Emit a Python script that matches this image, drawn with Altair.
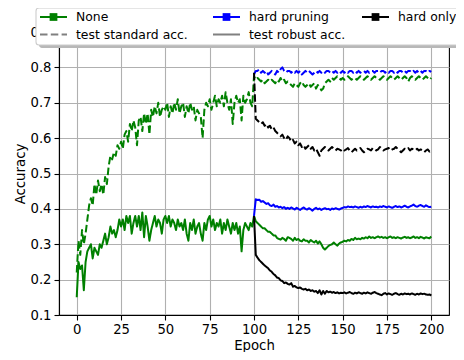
import altair as alt
import pandas as pd

# ---------------- data ----------------
epochs_full = list(range(0, 201))
epochs_retrain = list(range(100, 201))

none_std = [
    0.22, 0.31, 0.27, 0.34, 0.30, 0.33, 0.37, 0.41, 0.43, 0.41,
    0.47, 0.44, 0.48, 0.45, 0.47, 0.44, 0.49, 0.47, 0.52, 0.55,
    0.54, 0.56, 0.55, 0.58, 0.57, 0.59, 0.57, 0.61, 0.62, 0.59,
    0.64, 0.62, 0.65, 0.63, 0.58, 0.65, 0.66, 0.62, 0.67, 0.64,
    0.67, 0.61, 0.68, 0.66, 0.69, 0.67, 0.70, 0.66, 0.68, 0.69,
    0.68, 0.70, 0.66, 0.69, 0.67, 0.70, 0.68, 0.71, 0.67, 0.69,
    0.70, 0.66, 0.69, 0.67, 0.70, 0.68, 0.69, 0.65, 0.68, 0.67,
    0.66, 0.60, 0.68, 0.70, 0.69, 0.71, 0.68, 0.70, 0.72, 0.69,
    0.71, 0.70, 0.72, 0.69, 0.73, 0.70, 0.68, 0.71, 0.64, 0.70,
    0.72, 0.70, 0.71, 0.65, 0.72, 0.70, 0.71, 0.73, 0.70, 0.69,
    0.775, 0.765, 0.77, 0.765, 0.76, 0.765, 0.755, 0.76, 0.765, 0.76,
    0.765, 0.76, 0.755, 0.765, 0.76, 0.77, 0.76, 0.765, 0.755, 0.76,
    0.755, 0.75, 0.745, 0.755, 0.75, 0.745, 0.755, 0.76, 0.75, 0.745,
    0.75, 0.755, 0.745, 0.75, 0.755, 0.74, 0.75, 0.745, 0.735, 0.74,
    0.755, 0.76, 0.765, 0.76, 0.77, 0.765, 0.77, 0.775, 0.77, 0.765,
    0.77, 0.765, 0.77, 0.775, 0.77, 0.765, 0.77, 0.77, 0.765, 0.77,
    0.775, 0.77, 0.765, 0.77, 0.775, 0.77, 0.765, 0.77, 0.775, 0.77,
    0.77, 0.765, 0.77, 0.775, 0.77, 0.765, 0.77, 0.775, 0.77, 0.765,
    0.77, 0.775, 0.77, 0.765, 0.77, 0.775, 0.77, 0.76, 0.77, 0.775,
    0.77, 0.765, 0.77, 0.775, 0.77, 0.765, 0.77, 0.775, 0.77, 0.765,
    0.77,
]

none_rob = [
    0.15, 0.25, 0.23, 0.24, 0.17, 0.25, 0.28, 0.29, 0.30, 0.26,
    0.29, 0.28, 0.27, 0.30, 0.29, 0.31, 0.33, 0.30, 0.32, 0.35,
    0.33, 0.34, 0.32, 0.34, 0.37, 0.35, 0.37, 0.34, 0.38, 0.36,
    0.38, 0.33, 0.36, 0.38, 0.35, 0.38, 0.34, 0.39, 0.32, 0.38,
    0.35, 0.31, 0.34, 0.36, 0.38, 0.35, 0.37, 0.36, 0.33, 0.37,
    0.38, 0.36, 0.38, 0.35, 0.37, 0.36, 0.34, 0.37, 0.35, 0.36,
    0.34, 0.37, 0.33, 0.31, 0.36, 0.34, 0.37, 0.33, 0.35, 0.36,
    0.33, 0.31, 0.36, 0.34, 0.37, 0.38, 0.35, 0.37, 0.34, 0.36,
    0.35, 0.37, 0.33, 0.36, 0.34, 0.37, 0.35, 0.33, 0.36, 0.34,
    0.36, 0.33, 0.35, 0.28, 0.34, 0.36, 0.35, 0.34, 0.36, 0.35,
    0.38, 0.365, 0.36, 0.355, 0.35, 0.345, 0.345, 0.34, 0.335, 0.335,
    0.33, 0.325, 0.325, 0.318, 0.315, 0.313, 0.318, 0.315, 0.31, 0.32,
    0.318, 0.315, 0.31, 0.318, 0.312, 0.315, 0.31, 0.308, 0.314, 0.31,
    0.31, 0.305, 0.312, 0.308, 0.305, 0.31, 0.302, 0.308, 0.30, 0.29,
    0.285, 0.29, 0.295, 0.298, 0.30, 0.305, 0.30, 0.296, 0.302, 0.305,
    0.307, 0.31, 0.308, 0.312, 0.31, 0.315, 0.312, 0.318, 0.314, 0.316,
    0.314, 0.318, 0.316, 0.32, 0.317, 0.322, 0.318, 0.32, 0.317, 0.32,
    0.322, 0.319, 0.321, 0.318, 0.32, 0.317, 0.32, 0.322, 0.318, 0.32,
    0.317, 0.32, 0.318, 0.316, 0.319, 0.321, 0.318, 0.32, 0.317, 0.319,
    0.322, 0.318, 0.32, 0.317, 0.321, 0.319, 0.316, 0.32, 0.318, 0.317,
    0.322,
]

prune_std = [
    0.78, 0.79, 0.79, 0.795, 0.785, 0.79, 0.785, 0.79, 0.78, 0.785,
    0.79, 0.785, 0.78, 0.79, 0.785, 0.795, 0.80, 0.79, 0.785, 0.79,
    0.79, 0.785, 0.79, 0.785, 0.79, 0.785, 0.79, 0.78, 0.785, 0.79,
    0.785, 0.79, 0.785, 0.78, 0.785, 0.79, 0.785, 0.79, 0.785, 0.79,
    0.785, 0.79, 0.79, 0.785, 0.79, 0.785, 0.79, 0.785, 0.79, 0.785,
    0.79, 0.785, 0.79, 0.785, 0.79, 0.79, 0.785, 0.79, 0.785, 0.79,
    0.785, 0.79, 0.79, 0.785, 0.79, 0.785, 0.79, 0.79, 0.785, 0.79,
    0.79, 0.785, 0.79, 0.79, 0.785, 0.79, 0.785, 0.79, 0.79, 0.785,
    0.79, 0.785, 0.79, 0.79, 0.785, 0.79, 0.785, 0.79, 0.79, 0.785,
    0.79, 0.785, 0.79, 0.785, 0.79, 0.785, 0.79, 0.79, 0.785, 0.79,
    0.787,
]

prune_rob = [
    0.38, 0.427, 0.425, 0.426, 0.42, 0.422, 0.418, 0.414, 0.416, 0.41,
    0.408, 0.412, 0.406, 0.408, 0.404, 0.406, 0.402, 0.405, 0.40, 0.403,
    0.40, 0.404, 0.401, 0.398, 0.403, 0.40, 0.397, 0.401, 0.404, 0.40,
    0.398, 0.402, 0.399, 0.395, 0.40, 0.403, 0.399, 0.401, 0.397, 0.40,
    0.402, 0.399, 0.40, 0.397, 0.401, 0.399, 0.402, 0.40, 0.398, 0.401,
    0.403, 0.405, 0.404, 0.407, 0.405, 0.406, 0.404, 0.407, 0.405, 0.403,
    0.406, 0.404, 0.407, 0.405, 0.408, 0.406, 0.404, 0.407, 0.405, 0.406,
    0.404, 0.407, 0.405, 0.408, 0.406, 0.404, 0.407, 0.405, 0.403, 0.406,
    0.408, 0.405, 0.407, 0.404, 0.406, 0.409, 0.406, 0.404, 0.407, 0.409,
    0.412, 0.408, 0.406, 0.409, 0.411, 0.408, 0.406, 0.41, 0.407, 0.405,
    0.406,
]

only_std = [
    0.785, 0.655, 0.65, 0.645, 0.64, 0.645, 0.635, 0.64, 0.63, 0.635,
    0.625, 0.63, 0.62, 0.615, 0.61, 0.605, 0.61, 0.60, 0.595, 0.605,
    0.60, 0.59, 0.595, 0.585, 0.59, 0.58, 0.585, 0.575, 0.58, 0.57,
    0.575, 0.58, 0.57, 0.575, 0.565, 0.57, 0.56, 0.55, 0.565, 0.57,
    0.575, 0.57, 0.565, 0.57, 0.575, 0.57, 0.565, 0.57, 0.568, 0.565,
    0.57, 0.565, 0.568, 0.572, 0.565, 0.56, 0.565, 0.57, 0.565, 0.568,
    0.572, 0.565, 0.56, 0.565, 0.57, 0.568, 0.565, 0.572, 0.57, 0.565,
    0.568, 0.575, 0.57, 0.565, 0.568, 0.57, 0.572, 0.565, 0.568, 0.57,
    0.575, 0.57, 0.565, 0.56, 0.565, 0.57, 0.568, 0.572, 0.565, 0.57,
    0.568, 0.565, 0.57, 0.565, 0.568, 0.565, 0.56, 0.565, 0.568, 0.562,
    0.565,
]

only_rob = [
    0.38, 0.27, 0.262, 0.255, 0.25, 0.245, 0.24, 0.236, 0.232, 0.226,
    0.222, 0.216, 0.212, 0.206, 0.204, 0.198, 0.196, 0.19, 0.192, 0.188,
    0.186, 0.19, 0.18, 0.182, 0.178, 0.176, 0.178, 0.174, 0.172, 0.174,
    0.17, 0.172, 0.168, 0.17, 0.166, 0.168, 0.162, 0.17, 0.158, 0.168,
    0.16, 0.168, 0.164, 0.166, 0.163, 0.165, 0.162, 0.164, 0.161, 0.163,
    0.162, 0.164, 0.161, 0.163, 0.165, 0.162, 0.16, 0.163, 0.161, 0.164,
    0.162, 0.16, 0.163, 0.161, 0.164, 0.162, 0.16, 0.163, 0.165, 0.162,
    0.16, 0.158, 0.156, 0.16, 0.162, 0.158, 0.161, 0.159, 0.157, 0.16,
    0.162, 0.159, 0.157, 0.16, 0.158, 0.161, 0.159, 0.16, 0.158, 0.161,
    0.159, 0.157, 0.16, 0.158, 0.161, 0.159, 0.16, 0.158, 0.157, 0.158,
    0.155,
]

methods = ["None", "hard pruning", "hard only"]
metrics = ["test standard acc.", "test robust acc."]
x_ticks = [0, 25, 50, 75, 100, 125, 150, 175, 200]
y_ticks = [0.1, 0.2, 0.3, 0.4, 0.5, 0.6, 0.7, 0.8, 0.9]

# ---------------- styles ----------------
method_colors = ["#008000", "#0000ff", "#000000"]
metric_dash = [[7.5, 3.3], [1, 0]]
FONT = "DejaVu Sans"

rows = []
for ep, s, r in zip(epochs_full, none_std, none_rob):
    rows.append({"epoch": ep, "acc": s, "method": "None", "metric": metrics[0]})
    rows.append({"epoch": ep, "acc": r, "method": "None", "metric": metrics[1]})
for ep, s, r in zip(epochs_retrain, prune_std, prune_rob):
    rows.append({"epoch": ep, "acc": s, "method": "hard pruning", "metric": metrics[0]})
    rows.append({"epoch": ep, "acc": r, "method": "hard pruning", "metric": metrics[1]})
for ep, s, r in zip(epochs_retrain, only_std, only_rob):
    rows.append({"epoch": ep, "acc": s, "method": "hard only", "metric": metrics[0]})
    rows.append({"epoch": ep, "acc": r, "method": "hard only", "metric": metrics[1]})
df = pd.DataFrame(rows)

x_enc = alt.X("epoch:Q", title="Epoch",
              scale=alt.Scale(domain=[-10, 210], nice=False, zero=False),
              axis=alt.Axis(values=x_ticks, format="d"))
y_enc = alt.Y("acc:Q", title="Accuracy",
              scale=alt.Scale(domain=[0.1, 0.9], nice=False, zero=False),
              axis=alt.Axis(values=y_ticks, format=".1f"))

layers = []
for m in methods:
    layers.append(
        alt.Chart(df).transform_filter(alt.datum.method == m)
        .mark_line(strokeWidth=2, strokeJoin="round")
        .encode(
            x=x_enc, y=y_enc,
            color=alt.Color("method:N", scale=alt.Scale(domain=methods, range=method_colors), legend=None),
            strokeDash=alt.StrokeDash("metric:N", scale=alt.Scale(domain=metrics, range=metric_dash), legend=None),
            detail="metric:N",
        )
    )

# ---------------- hand-made legend (matplotlib style) ----------------
one = pd.DataFrame({"k": [0]})
box_x, box_x2, box_y, box_y2 = -23, 420, -24, 13
layers.append(alt.Chart(one).mark_rect(color="#b8b8b8", cornerRadius=3)
              .encode(x=alt.value(box_x + 3), x2=alt.value(box_x2 + 3),
                      y=alt.value(box_y + 3), y2=alt.value(box_y2 + 3)))
layers.append(alt.Chart(one).mark_rect(fill="white", stroke="#cccccc", strokeWidth=1.1, cornerRadius=3)
              .encode(x=alt.value(box_x), x2=alt.value(box_x2),
                      y=alt.value(box_y), y2=alt.value(box_y2)))

legend_labels = methods + metrics
legend_colors = method_colors + ["#808080", "#808080"]
legend_dash = [[1, 0], [1, 0], [1, 0], [7.5, 3.3], [1, 0]]
legend_marker = [True, True, True, False, False]
col_x = [-19, 154, 303]
row_y = [-15, 2.5]
for i, (lab, col, dash, mk) in enumerate(zip(legend_labels, legend_colors, legend_dash, legend_marker)):
    cx = col_x[i % 3]
    cy = row_y[i // 3]
    layers.append(alt.Chart(one).mark_rule(color=col, strokeWidth=2, strokeDash=dash)
                  .encode(x=alt.value(cx), x2=alt.value(cx + 27), y=alt.value(cy)))
    if mk:
        layers.append(alt.Chart(one).mark_point(shape="square", filled=True, size=60, color=col, opacity=1)
                      .encode(x=alt.value(cx + 13.5), y=alt.value(cy)))
    layers.append(alt.Chart(pd.DataFrame({"label": [lab]}))
                  .mark_text(align="left", baseline="middle", font=FONT, fontSize=12.4, color="black")
                  .encode(x=alt.value(cx + 36), y=alt.value(cy), text="label:N"))

chart = (
    alt.layer(*layers)
    .properties(width=390, height=283,
                autosize=alt.AutoSizeParams(type="none"),
                padding={"left": 51, "top": 24, "right": 7, "bottom": 37})
    .configure_view(stroke="black", strokeWidth=1.1)
    .configure_axis(
        labelFont=FONT, labelFontSize=13.2, labelColor="black",
        titleFont=FONT, titleFontSize=13.3, titleFontWeight="normal", titleColor="black",
        tickColor="black", tickSize=5, tickWidth=1.1,
        domainColor="black", domainWidth=1.1,
        gridColor="#b0b0b0", gridWidth=1.1, gridOpacity=1,
        labelPadding=3, titlePadding=3,
    )
)

chart.save("out.html", embed_options={"renderer": "svg", "actions": False})
